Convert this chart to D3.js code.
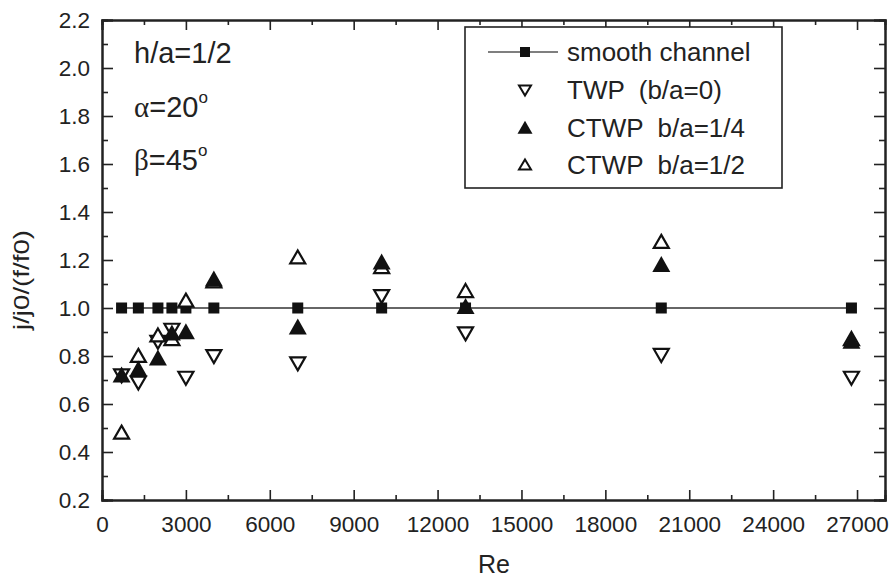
<!DOCTYPE html>
<html>
<head>
<meta charset="utf-8">
<script src="https://cdn.jsdelivr.net/npm/d3@7"></script>
<style>
  body { margin: 0; background: #fff; }
  svg text { font-family: "Liberation Sans", Arial, sans-serif; fill: #222; }
</style>
</head>
<body>
<div id="chart"></div>
<script>
// Re values shared by all series
const reValues = [700, 1300, 2000, 2500, 3000, 4000, 7000, 10000, 13000, 20000, 26800];
const smooth = [1, 1, 1, 1, 1, 1, 1, 1, 1, 1, 1];
const twp = [0.72, 0.69, 0.86, 0.91, 0.71, 0.80, 0.77, 1.05, 0.895, 0.805, 0.71];
const ctwpQuarter = [0.72, 0.745, 0.79, 0.895, 0.90, 1.12, 0.92, 1.19, 1.005, 1.18, 0.86];
const ctwpHalf = [0.48, 0.80, 0.885, 0.87, 1.03, 1.11, 1.21, 1.17, 1.07, 1.275, 0.87];

const xTicks = [0, 3000, 6000, 9000, 12000, 15000, 18000, 21000, 24000, 27000];
const yTicks = [0.2, 0.4, 0.6, 0.8, 1.0, 1.2, 1.4, 1.6, 1.8, 2.0, 2.2];
const legendLabels = ["smooth channel", "TWP  (b/a=0)", "CTWP  b/a=1/4", "CTWP  b/a=1/2"];

const width = 893, height = 580;
const margin = {top: 20, right: 8, bottom: 80, left: 102};
const innerWidth = width - margin.left - margin.right;
const innerHeight = height - margin.top - margin.bottom;

const svg = d3.select("#chart").append("svg")
    .attr("width", width)
    .attr("height", height);

const g = svg.append("g")
    .attr("transform", `translate(${margin.left},${margin.top})`);

const x = d3.scaleLinear().domain([0, 28000]).range([0, innerWidth]);
const y = d3.scaleLinear().domain([0.2, 2.2]).range([innerHeight, 0]);

// triangle path centred on the point
function tri(up, w, h) {
    const s = up ? 1 : -1;
    return `M0,${-s * h * 0.55}L${w / 2},${s * h * 0.45}L${-w / 2},${s * h * 0.45}Z`;
}

// minor tick values
const xMinor = d3.range(0, 28001, 1500).filter(v => v % 3000 !== 0);
const yMinor = d3.range(3, 22, 2).map(v => v / 10);

// axes with inward ticks, mirrored on top and right
g.append("g").attr("transform", `translate(0,${innerHeight})`)
    .call(d3.axisBottom(x).tickValues(xTicks).tickSize(-10).tickPadding(16).tickFormat(d3.format("d")));
g.append("g")
    .call(d3.axisLeft(y).tickValues(yTicks).tickSize(-11).tickPadding(12).tickFormat(d3.format(".1f")));

function bare(axis) {
    return sel => { sel.call(axis); sel.selectAll("text").remove(); };
}
g.append("g").call(bare(d3.axisTop(x).tickValues(xTicks).tickSize(-10)));
g.append("g").attr("transform", `translate(${innerWidth},0)`)
    .call(bare(d3.axisRight(y).tickValues(yTicks).tickSize(-11)));
g.append("g").attr("transform", `translate(0,${innerHeight})`)
    .call(bare(d3.axisBottom(x).tickValues(xMinor).tickSize(-5)));
g.append("g").call(bare(d3.axisTop(x).tickValues(xMinor).tickSize(-5)));
g.append("g").call(bare(d3.axisLeft(y).tickValues(yMinor).tickSize(-6)));
g.append("g").attr("transform", `translate(${innerWidth},0)`)
    .call(bare(d3.axisRight(y).tickValues(yMinor).tickSize(-6)));

g.selectAll(".domain").attr("stroke", "#222").attr("stroke-width", 2);
g.selectAll(".tick line").attr("stroke", "#222").attr("stroke-width", 1.6);
g.selectAll(".tick text").style("font-size", "22.5px").attr("fill", "#222");

// axis titles
svg.append("text")
    .attr("x", 494).attr("y", 573)
    .attr("text-anchor", "middle")
    .style("font-size", "25px")
    .text("Re");

svg.append("text")
    .attr("transform", "translate(29,280) rotate(-90)")
    .attr("text-anchor", "middle")
    .style("font-size", "22px")
    .attr("textLength", 100)
    .attr("lengthAdjust", "spacingAndGlyphs")
    .text("j/j0/(f/f0)");

// smooth channel line + squares
const pts = reValues.map((r, i) => ({r, v: smooth[i]}));
g.append("path")
    .datum(pts)
    .attr("fill", "none")
    .attr("stroke", "#333")
    .attr("stroke-width", 1.6)
    .attr("d", d3.line().x(d => x(d.r)).y(d => y(d.v)));

g.selectAll(".sq")
    .data(pts)
    .enter().append("rect")
    .attr("class", "sq")
    .attr("x", d => x(d.r) - 5.5)
    .attr("y", d => y(d.v) - 5.5)
    .attr("width", 11).attr("height", 11)
    .attr("fill", "#111");

function drawTri(data, up, filled) {
    g.append("g").selectAll("path")
        .data(reValues.map((r, i) => ({r, v: data[i]})))
        .enter().append("path")
        .attr("transform", d => `translate(${x(d.r)},${y(d.v)})`)
        .attr("d", filled ? tri(up, 18, 16) : tri(up, 15, 13))
        .attr("fill", filled ? "#111" : "#fff")
        .attr("stroke", filled ? "none" : "#111")
        .attr("stroke-width", 2.2)
        .attr("stroke-linejoin", "miter");
}

drawTri(twp, false, false);
drawTri(ctwpHalf, true, false);
drawTri(ctwpQuarter, true, true);

// annotations
const ann = svg.append("g").style("font-size", "29px");
ann.append("text").attr("x", 134).attr("y", 63).text("h/a=1/2");
const a1 = ann.append("text").attr("x", 134).attr("y", 117);
a1.append("tspan").style("font-family", "'Liberation Serif', serif").text("α");
a1.append("tspan").text("=20");
a1.append("tspan").attr("dy", -14).style("font-size", "17px").text("o");
const a2 = ann.append("text").attr("x", 134).attr("y", 170);
a2.append("tspan").style("font-family", "'Liberation Serif', serif").text("β");
a2.append("tspan").text("=45");
a2.append("tspan").attr("dy", -14).style("font-size", "17px").text("o");

// legend
const legend = svg.append("g");
legend.append("rect")
    .attr("x", 465).attr("y", 27)
    .attr("width", 317).attr("height", 161)
    .attr("fill", "#fff")
    .attr("stroke", "#222")
    .attr("stroke-width", 1.6);

const rowY = [52, 90, 128, 165];
legend.append("line")
    .attr("x1", 488).attr("x2", 558)
    .attr("y1", rowY[0]).attr("y2", rowY[0])
    .attr("stroke", "#555").attr("stroke-width", 1.6);
legend.append("rect")
    .attr("x", 520).attr("y", rowY[0] - 5)
    .attr("width", 10).attr("height", 10)
    .attr("fill", "#111");
legend.append("path").attr("transform", `translate(525,${rowY[1]})`)
    .attr("d", tri(false, 12, 10)).attr("fill", "#fff").attr("stroke", "#111").attr("stroke-width", 2);
legend.append("path").attr("transform", `translate(525,${rowY[2]})`)
    .attr("d", tri(true, 15, 13)).attr("fill", "#111");
legend.append("path").attr("transform", `translate(525,${rowY[3]})`)
    .attr("d", tri(true, 12, 10)).attr("fill", "#fff").attr("stroke", "#111").attr("stroke-width", 2);

legend.selectAll(".lt")
    .data(legendLabels)
    .enter().append("text")
    .attr("class", "lt")
    .attr("x", 567)
    .attr("y", (d, i) => rowY[i] + 9)
    .style("font-size", "26px")
    .style("white-space", "pre")
    .attr("xml:space", "preserve")
    .text(d => d);
</script>
</body>
</html>
